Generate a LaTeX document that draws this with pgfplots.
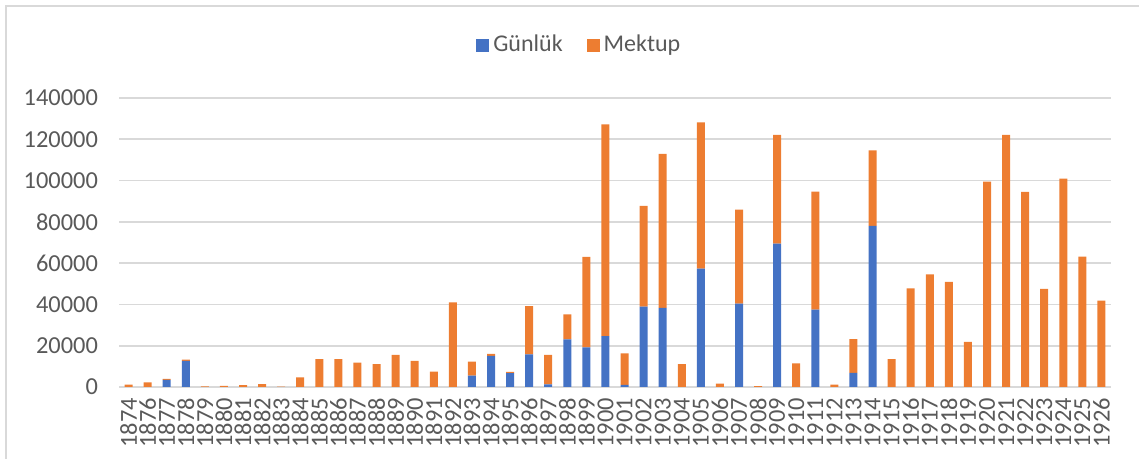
\documentclass[border=0pt]{standalone}
\usepackage{pgfplots}
\pgfplotsset{compat=1.18}
\usepackage{pgfplotstable}
\usepackage{fontspec}
\setmainfont{Carlito}
\definecolor{gblue}{HTML}{4472C4}
\definecolor{morange}{HTML}{ED7D31}
\definecolor{txtgray}{HTML}{595959}
\definecolor{gridgray}{HTML}{D9D9D9}
\pgfplotstableread{
idx gunluk mektup
0 0 1200
1 0 2200
2 3400 500
3 12700 500
4 0 300
5 0 600
6 0 900
7 0 1400
8 0 200
9 0 4700
10 0 13500
11 0 13500
12 0 11800
13 0 11100
14 0 15500
15 0 12600
16 0 7400
17 0 41000
18 5500 6750
19 15100 1000
20 6700 600
21 15800 23400
22 1300 14300
23 23100 12100
24 19200 43800
25 24700 102500
26 1000 15300
27 38900 48800
28 38300 74600
29 0 11100
30 57300 70900
31 0 1600
32 40400 45500
33 0 400
34 69400 52700
35 0 11500
36 37500 57100
37 0 1100
38 6900 16350
39 78000 36600
40 0 13500
41 0 47800
42 0 54600
43 0 50900
44 0 21800
45 0 99500
46 0 122100
47 0 94500
48 0 47500
49 0 100900
50 0 63100
51 0 41800
}\datatable
\begin{document}
\begin{tikzpicture}
\path[use as bounding box] (0,0) rectangle (569.5pt,229.5pt);
\draw[gridgray, line width=0.8pt] (3pt,0) -- (3pt,226.5pt) -- (569.5pt,226.5pt);
\begin{axis}[
  at={(59.5pt,36pt)}, anchor=south west,
  scale only axis, width=496pt, height=144.5pt,
  ybar stacked, bar width=4pt,
  xmin=-0.5, xmax=51.5, ymin=0, ymax=140000,
  xtick={0,...,51},
  xticklabels={1874,1876,1877,1878,1879,1880,1881,1882,1883,1884,1885,1886,1887,1888,1889,1890,1891,1892,1893,1894,1895,1896,1897,1898,1899,1900,1901,1902,1903,1904,1905,1906,1907,1908,1909,1910,1911,1912,1913,1914,1915,1916,1917,1918,1919,1920,1921,1922,1923,1924,1925,1926},
  ytick={0,20000,40000,60000,80000,100000,120000,140000},
  yticklabels={0,20000,40000,60000,80000,100000,120000,140000},
  scaled y ticks=false,
  major tick length=0pt,
  axis line style={draw=none},
  ymajorgrids, grid style={gridgray, line width=0.8pt},
  tick label style={font=\fontsize{12.2}{14}\selectfont, text=txtgray},
  xticklabel style={rotate=90, anchor=east, xshift=-2pt},
  yticklabel style={xshift=-7pt},
  legend style={at={(0.4650,1.183)}, anchor=center, draw=none, fill=none,
    legend columns=2, font=\fontsize{12}{14}\selectfont, text=txtgray,
    /tikz/every even column/.append style={column sep=10pt}},
  legend image code/.code={\fill[#1] (0pt,-3.25pt) rectangle (6.5pt,3.25pt);},
]
\addplot[fill=gblue, draw=none] table[x=idx, y=gunluk] {\datatable};
\addplot[fill=morange, draw=none] table[x=idx, y=mektup] {\datatable};
\legend{Günlük, Mektup}
\end{axis}
\end{tikzpicture}
\end{document}
